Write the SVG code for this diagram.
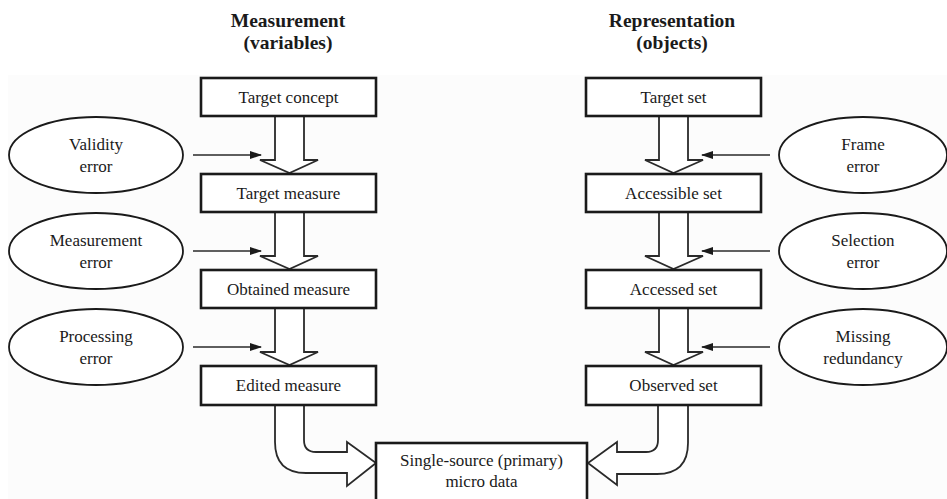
<svg xmlns="http://www.w3.org/2000/svg" width="947" height="499" viewBox="0 0 947 499">
<style>
text{font-family:"Liberation Serif","Times New Roman",serif;fill:#1a1a1a;text-anchor:middle}
.t{font-size:17px}
.h{font-size:19.5px;font-weight:bold}
.box{fill:#fff;stroke:#1a1a1a;stroke-width:2.6}
.ell{fill:#fff;stroke:#1a1a1a;stroke-width:1.8}
.big{fill:#fff;stroke:#2a2a2a;stroke-width:1.8;stroke-linejoin:miter}
.thin{fill:none;stroke:#2a2a2a;stroke-width:1.3;marker-end:url(#ah)}
</style>
<defs>
<marker id="ah" markerWidth="12" markerHeight="8" refX="11" refY="4" orient="auto" markerUnits="userSpaceOnUse">
<path d="M0,0 L12,4 L0,8 Z" fill="#1a1a1a"/>
</marker>
</defs>
<rect x="0" y="0" width="947" height="499" fill="#fff"/>
<rect x="8" y="75" width="939" height="424" fill="#fcfcfc"/>
<g id="titles">
<text class="h" x="288" y="27">Measurement</text>
<text class="h" x="288" y="49">(variables)</text>
<text class="h" x="672" y="27">Representation</text>
<text class="h" x="672" y="49">(objects)</text>
</g>
<g id="connectors">
<path class="big" d="M275,116 V160 H260 L289.5,173 L318,160 H304 V116"/>
<path class="big" d="M275,212 V256 H260 L289.5,269 L318,256 H304 V212"/>
<path class="big" d="M275,308 V352 H260 L289.5,365 L318,352 H304 V308"/>
<path class="big" d="M659,116 V160 H645 L673.5,173 L703,160 H688 V116"/>
<path class="big" d="M659,212 V256 H645 L673.5,269 L703,256 H688 V212"/>
<path class="big" d="M659,308 V352 H645 L673.5,365 L703,352 H688 V308"/>
<path class="big" d="M275,405 V442 Q275,473 306,473 H347 V486 L376,463 L347,442 V452 H316 Q304,452 304,440 V405"/>
<path class="big" d="M688,405 V443 Q688,474 657,474 H617 V485 L588,463 L617,442 V452 H646 Q658,452 658,440 V405"/>
<line class="thin" x1="193" y1="155" x2="261" y2="155"/>
<line class="thin" x1="193" y1="251" x2="261" y2="251"/>
<line class="thin" x1="193" y1="347" x2="261" y2="347"/>
<line class="thin" x1="770" y1="155" x2="702" y2="155"/>
<line class="thin" x1="770" y1="251" x2="702" y2="251"/>
<line class="thin" x1="770" y1="347" x2="702" y2="347"/>
</g>
<g id="target-concept"><rect class="box" x="201" y="78" width="175" height="38"/><text class="t" x="288.5" y="103">Target concept</text></g>
<g id="target-measure"><rect class="box" x="201" y="174" width="175" height="38"/><text class="t" x="288.5" y="199">Target measure</text></g>
<g id="obtained-measure"><rect class="box" x="201" y="270" width="175" height="38"/><text class="t" x="288.5" y="295">Obtained measure</text></g>
<g id="edited-measure"><rect class="box" x="201" y="366" width="175" height="39"/><text class="t" x="288.5" y="391">Edited measure</text></g>
<g id="target-set"><rect class="box" x="586" y="78" width="175" height="38"/><text class="t" x="673.5" y="103">Target set</text></g>
<g id="accessible-set"><rect class="box" x="586" y="174" width="175" height="38"/><text class="t" x="673.5" y="199">Accessible set</text></g>
<g id="accessed-set"><rect class="box" x="586" y="270" width="175" height="38"/><text class="t" x="673.5" y="295">Accessed set</text></g>
<g id="observed-set"><rect class="box" x="586" y="366" width="175" height="39"/><text class="t" x="673.5" y="391">Observed set</text></g>
<g id="micro-data"><rect class="box" x="376" y="443" width="211" height="70"/><text class="t" x="481.5" y="466">Single-source (primary)</text><text class="t" x="481.5" y="487">micro data</text></g>
<g id="validity-error"><ellipse class="ell" cx="96" cy="155" rx="87" ry="38"/><text class="t" x="96" y="150">Validity</text><text class="t" x="96" y="172">error</text></g>
<g id="measurement-error"><ellipse class="ell" cx="96" cy="251" rx="87" ry="38"/><text class="t" x="96" y="246">Measurement</text><text class="t" x="96" y="268">error</text></g>
<g id="processing-error"><ellipse class="ell" cx="96" cy="347" rx="87" ry="38"/><text class="t" x="96" y="342">Processing</text><text class="t" x="96" y="364">error</text></g>
<g id="frame-error"><ellipse class="ell" cx="863" cy="155" rx="84" ry="38"/><text class="t" x="863" y="150">Frame</text><text class="t" x="863" y="172">error</text></g>
<g id="selection-error"><ellipse class="ell" cx="863" cy="251" rx="84" ry="38"/><text class="t" x="863" y="246">Selection</text><text class="t" x="863" y="268">error</text></g>
<g id="missing-redundancy"><ellipse class="ell" cx="863" cy="347" rx="84" ry="38"/><text class="t" x="863" y="342">Missing</text><text class="t" x="863" y="364">redundancy</text></g>
</svg>
